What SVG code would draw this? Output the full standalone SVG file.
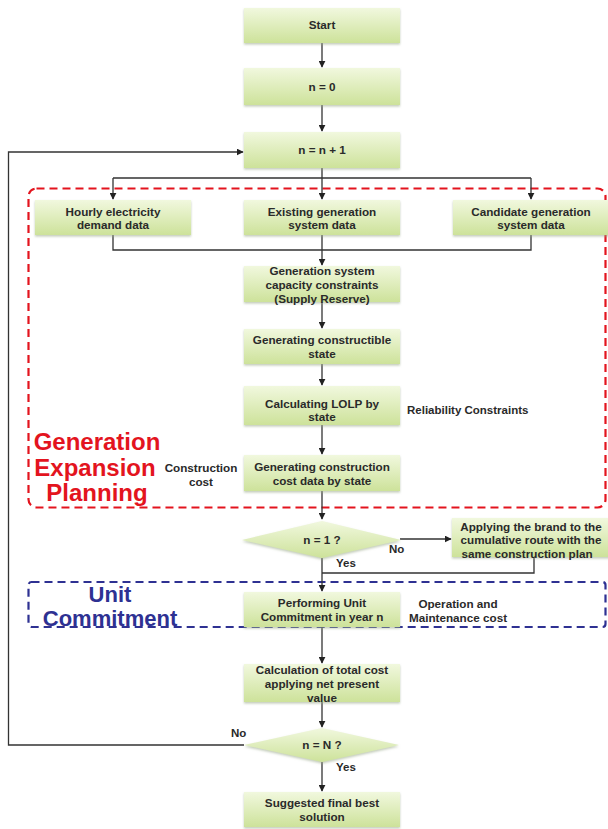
<svg xmlns="http://www.w3.org/2000/svg" width="608" height="829" viewBox="0 0 608 829">
<defs>
<linearGradient id="g" x1="0" y1="0" x2="0" y2="1">
<stop offset="0" stop-color="#f1f8de"/>
<stop offset="1" stop-color="#cde29a"/>
</linearGradient>
<filter id="sh" x="-5%" y="-10%" width="110%" height="130%">
<feDropShadow dx="0" dy="1.5" stdDeviation="1" flood-color="#9aa88a" flood-opacity="0.6"/>
</filter>
<marker id="ah" viewBox="0 0 10 10" refX="9" refY="5" markerWidth="7" markerHeight="7" markerUnits="userSpaceOnUse" orient="auto">
<path d="M0,0 L10,5 L0,10 z" fill="#222"/>
</marker>
<style>
.box{fill:url(#g);filter:url(#sh);}
.t{font-family:"Liberation Sans",Arial,sans-serif;font-size:11.7px;font-weight:bold;fill:#2a2a2a;text-anchor:middle;}
.l{font-family:"Liberation Sans",Arial,sans-serif;font-size:11.5px;font-weight:bold;fill:#2a2a2a;}
.c{fill:none;stroke:#333;stroke-width:1.3;}
.a{marker-end:url(#ah);}
.red{fill:#e3141e;font-family:"Liberation Sans",Arial,sans-serif;font-size:24px;font-weight:bold;text-anchor:middle;}
.blue{fill:#2e3192;font-family:"Liberation Sans",Arial,sans-serif;font-size:22px;font-weight:bold;text-anchor:middle;}
</style>
</defs>
<rect width="608" height="829" fill="#ffffff"/>

<g id="gep-region">
<rect x="28.5" y="188.5" width="577" height="319" rx="8" fill="none" stroke="#e3141e" stroke-width="2.2" stroke-dasharray="8,5"/>
<text class="red" x="97" y="450">Generation</text>
<text class="red" x="95" y="476">Expansion</text>
<text class="red" x="97" y="501">Planning</text>
</g>
<g id="uc-region">
<rect x="28.5" y="582" width="577" height="45" rx="3" fill="none" stroke="#2e3192" stroke-width="2.2" stroke-dasharray="8,5"/>
<text class="blue" x="110" y="602">Unit</text>
<text class="blue" x="110" y="626">Commitment</text>
</g>

<g id="connectors">
<path class="c a" d="M322,43 V67"/>
<path class="c a" d="M322,105 V131"/>
<path class="c" d="M322,168 V178 M113,178 H531"/>
<path class="c a" d="M113,178 V199"/>
<path class="c a" d="M322,178 V199"/>
<path class="c a" d="M531,178 V199"/>
<path class="c" d="M113,235 V250 H531 V235 M322,235 V250"/>
<path class="c a" d="M322,250 V265"/>
<path class="c a" d="M322,302 V328"/>
<path class="c a" d="M322,364 V385"/>
<path class="c a" d="M322,425 V454"/>
<path class="c a" d="M322,491 V519"/>
<path class="c a" d="M400,539 H451"/>
<path class="c" d="M322,558 V573 M534,557 V573 H322"/>
<path class="c a" d="M322,573 V591"/>
<path class="c a" d="M322,627 V663"/>
<path class="c a" d="M322,702 V727"/>
<path class="c a" d="M322,762 V791"/>
<path class="c a" d="M244,745 H8.5 V152 H243"/>
<text class="l" x="389" y="553">No</text>
<text class="l" x="336" y="567">Yes</text>
<text class="l" x="231" y="737">No</text>
<text class="l" x="336" y="771">Yes</text>
</g>

<g id="start"><rect class="box" x="244" y="8" width="156" height="35"/><text class="t" x="322" y="29">Start</text></g>
<g id="n0"><rect class="box" x="244" y="68" width="156" height="37"/><text class="t" x="322" y="91">n = 0</text></g>
<g id="ninc"><rect class="box" x="244" y="132" width="156" height="36"/><text class="t" x="322" y="154">n = n + 1</text></g>

<g id="hourly"><rect class="box" x="35" y="200" width="156" height="35"/><text class="t" x="113" y="215.5">Hourly electricity</text><text class="t" x="113" y="229">demand data</text></g>
<g id="existing"><rect class="box" x="244" y="200" width="156" height="35"/><text class="t" x="322" y="215.5">Existing generation</text><text class="t" x="322" y="229">system data</text></g>
<g id="candidate"><rect class="box" x="453" y="200" width="162" height="35"/><text class="t" x="531" y="215.5">Candidate generation</text><text class="t" x="531" y="229">system data</text></g>

<g id="capacity"><rect class="box" x="244" y="266" width="156" height="36"/><text class="t" x="322" y="275">Generation system</text><text class="t" x="322" y="289">capacity constraints</text><text class="t" x="322" y="303">(Supply Reserve)</text></g>
<g id="constructible"><rect class="box" x="244" y="329" width="156" height="35"/><text class="t" x="322" y="344">Generating constructible</text><text class="t" x="322" y="358">state</text></g>
<g id="lolp"><rect class="box" x="244" y="386" width="156" height="39"/><text class="t" x="322" y="408">Calculating LOLP by</text><text class="t" x="322" y="421">state</text></g>
<text class="l" x="407" y="414">Reliability Constraints</text>
<g id="costdata"><rect class="box" x="244" y="455" width="156" height="36"/><text class="t" x="322" y="471">Generating construction</text><text class="t" x="322" y="485">cost data by state</text></g>
<text class="t" x="201" y="472">Construction</text>
<text class="t" x="201" y="486">cost</text>

<g id="dec1"><polygon class="box" points="242,540 322,521 401,540 322,558"/><text class="t" x="322" y="544">n = 1 ?</text></g>
<g id="applying"><rect class="box" x="452" y="518" width="162" height="39"/><text class="t" x="531" y="531">Applying the brand to the</text><text class="t" x="531" y="544">cumulative route with the</text><text class="t" x="527" y="558">same construction plan</text></g>

<g id="uc"><rect class="box" x="244" y="592" width="156" height="35"/><text class="t" x="322" y="607">Performing Unit</text><text class="t" x="322" y="621">Commitment in year n</text></g>
<text class="t" x="458" y="608">Operation and</text>
<text class="t" x="458" y="621.5">Maintenance cost</text>

<g id="npv"><rect class="box" x="244" y="664" width="156" height="38"/><text class="t" x="322" y="674">Calculation of total cost</text><text class="t" x="322" y="688">applying net present</text><text class="t" x="322" y="702">value</text></g>
<g id="dec2"><polygon class="box" points="244,745 322,728 399,745 322,762"/><text class="t" x="322" y="749">n = N ?</text></g>
<g id="final"><rect class="box" x="244" y="792" width="156" height="35"/><text class="t" x="322" y="807">Suggested final best</text><text class="t" x="322" y="821">solution</text></g>
</svg>
